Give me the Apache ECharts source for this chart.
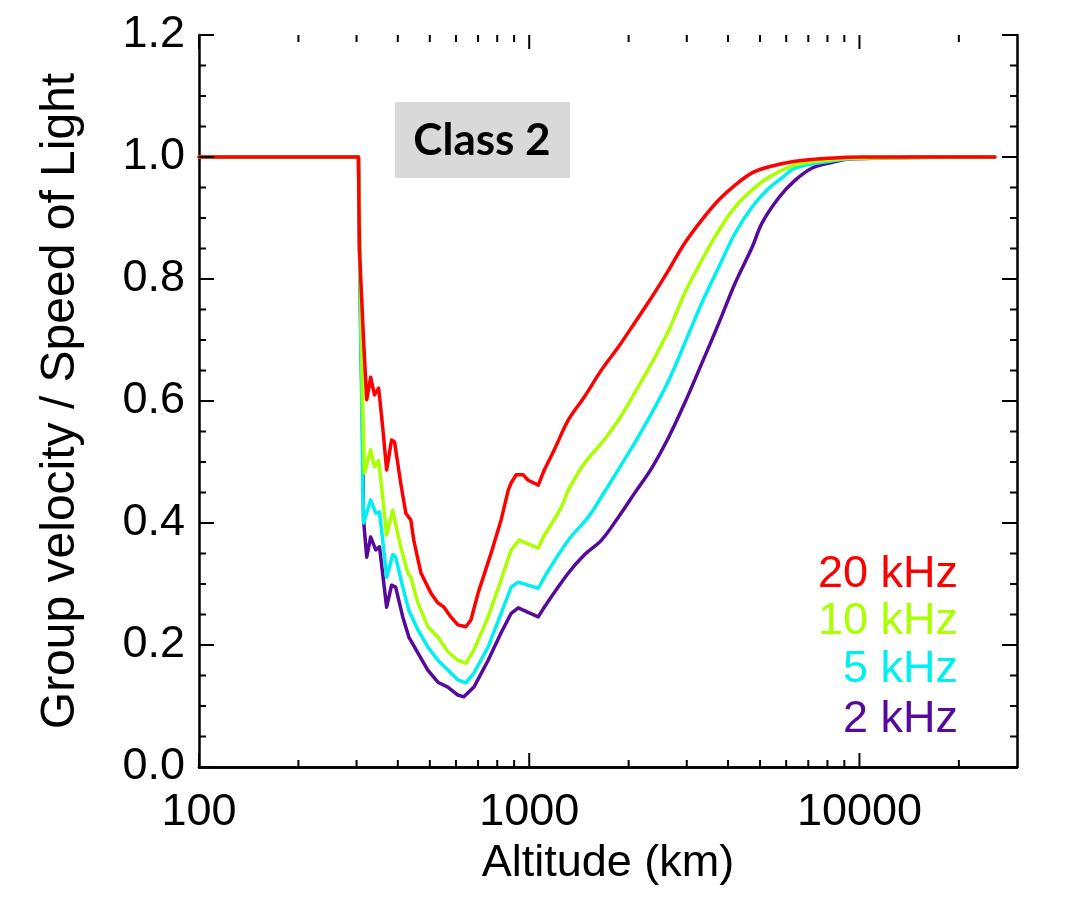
<!DOCTYPE html>
<html>
<head>
<meta charset="utf-8">
<script src="https://cdn.jsdelivr.net/npm/echarts@6/dist/echarts.min.js"></script>
<style>
  html, body { margin: 0; padding: 0; background: #fff; }
  #chart { width: 1068px; height: 909px; }
</style>
</head>
<body>
<div id="chart"></div>
<script>
// altitude (km) / group velocity ratio
const alt20 = [100, 304, 306, 315, 322, 331, 340, 350, 360, 370, 383, 391, 408, 423, 438, 447, 470, 504, 529, 552, 579, 608, 643, 666, 700, 767, 822, 864, 882, 913, 959, 993, 1065, 1111, 1191, 1314, 1470, 1655, 1864, 2085, 2349, 2646, 2959, 3333, 3754, 4201, 4731, 5327, 6390, 8106, 10210, 25700]
const vel20 = [1.0, 1.0, 0.85, 0.70, 0.602, 0.639, 0.610, 0.621, 0.557, 0.487, 0.536, 0.533, 0.466, 0.416, 0.405, 0.372, 0.318, 0.285, 0.269, 0.262, 0.246, 0.233, 0.230, 0.241, 0.285, 0.351, 0.405, 0.454, 0.466, 0.479, 0.479, 0.470, 0.462, 0.487, 0.520, 0.569, 0.607, 0.651, 0.689, 0.728, 0.770, 0.815, 0.859, 0.897, 0.930, 0.954, 0.974, 0.984, 0.993, 0.998, 1.0, 1.0]

const alt10 = [100, 304, 308, 313, 317, 331, 340, 350, 360, 370, 386, 391, 408, 429, 438, 460, 493, 529, 567, 608, 643, 680, 751, 822, 882, 932, 959, 1065, 1111, 1251, 1314, 1470, 1655, 1864, 2085, 2349, 2646, 2959, 3333, 3754, 4201, 4731, 5327, 6390, 8106, 9723, 25700]
const vel10 = [1.0, 1.0, 0.80, 0.60, 0.482, 0.520, 0.492, 0.502, 0.443, 0.380, 0.421, 0.418, 0.361, 0.318, 0.311, 0.269, 0.230, 0.213, 0.189, 0.175, 0.170, 0.192, 0.246, 0.307, 0.356, 0.372, 0.369, 0.359, 0.380, 0.426, 0.454, 0.498, 0.531, 0.569, 0.613, 0.662, 0.716, 0.777, 0.831, 0.880, 0.918, 0.946, 0.967, 0.987, 0.995, 0.998, 1.0]

const alt5 = [100, 304, 308, 313, 315, 331, 343, 352, 360, 370, 386, 394, 414, 432, 460, 493, 529, 567, 608, 643, 680, 751, 822, 882, 926, 1065, 1111, 1314, 1511, 1655, 2000, 2085, 2349, 2646, 2959, 3333, 3754, 4201, 4731, 5327, 5834, 6390, 8106, 9723, 25700]
const vel5 = [1.0, 1.0, 0.75, 0.482, 0.400, 0.438, 0.416, 0.418, 0.372, 0.311, 0.348, 0.344, 0.295, 0.257, 0.225, 0.197, 0.175, 0.159, 0.143, 0.138, 0.154, 0.197, 0.252, 0.295, 0.303, 0.293, 0.311, 0.372, 0.410, 0.443, 0.515, 0.531, 0.580, 0.634, 0.695, 0.761, 0.820, 0.875, 0.918, 0.949, 0.966, 0.982, 0.993, 0.998, 1.0]

const alt2 = [100, 304, 308, 313, 315, 322, 331, 343, 352, 370, 383, 394, 414, 432, 460, 493, 529, 567, 608, 634, 680, 751, 822, 882, 926, 1065, 1111, 1314, 1470, 1655, 1864, 2085, 2349, 2646, 2959, 3333, 3754, 4201, 4731, 5072, 5713, 6390, 7196, 8106, 9520, 25700]
const vel2 = [1.0, 1.0, 0.75, 0.55, 0.405, 0.344, 0.377, 0.356, 0.361, 0.262, 0.298, 0.295, 0.246, 0.213, 0.187, 0.159, 0.139, 0.131, 0.118, 0.115, 0.131, 0.175, 0.220, 0.252, 0.261, 0.246, 0.262, 0.318, 0.348, 0.372, 0.410, 0.449, 0.490, 0.541, 0.597, 0.662, 0.728, 0.793, 0.852, 0.892, 0.934, 0.962, 0.982, 0.990, 0.997, 1.0]

// axis ticks
const xMajor = [100, 1000, 10000]
const xMinor = [200, 300, 400, 500, 600, 700, 800, 900, 2000, 3000, 4000, 5000, 6000, 7000, 8000, 9000, 20000]
const yMajor = [0, 0.2, 0.4, 0.6, 0.8, 1.0, 1.2]
const yMinor = [0.05, 0.1, 0.15, 0.25, 0.3, 0.35, 0.45, 0.5, 0.55, 0.65, 0.7, 0.75, 0.85, 0.9, 0.95, 1.05, 1.1, 1.15]

const labels = ['20 kHz', '10 kHz', '5 kHz', '2 kHz']
const colors = ['#ff0000', '#aaff00', '#00f0f0', '#560a9c']
const splitAlt = 1111 // jagged part below, smooth rise above

const zip = (xs, ys) => xs.map((x, i) => [x, ys[i]])
const font = 'Liberation Sans, Arial, sans-serif'

const chart = echarts.init(document.getElementById('chart'))

const xBase = {
  type: 'log',
  logBase: 10,
  min: 100,
  max: 30000,
  axisLine: { lineStyle: { color: '#000', width: 2.5 } },
  axisTick: { show: false },
  splitLine: { show: false }
}
const yBase = {
  type: 'value',
  min: 0,
  max: 1.2,
  interval: 0.2,
  axisLine: { show: true, lineStyle: { color: '#000', width: 2.5 } },
  axisTick: { show: false },
  splitLine: { show: false }
}

const lineSeries = []
;[3, 2, 1, 0].forEach(i => {
  const pts = zip([alt20, alt10, alt5, alt2][i], [vel20, vel10, vel5, vel2][i])
  const common = {
    type: 'line',
    name: labels[i],
    showSymbol: false,
    lineStyle: { color: colors[i], width: 3.5, cap: 'round', join: 'round' },
    itemStyle: { color: colors[i] },
    z: 10 - i
  }
  lineSeries.push(Object.assign({}, common, { data: pts.filter(p => p[0] <= splitAlt) }))
  lineSeries.push(Object.assign({}, common, { data: pts.filter(p => p[0] >= splitAlt), smooth: 0.35 }))
})

// kind: 0 x major, 1 x minor, 2 y major, 3 y minor
const tickData = []
  .concat(xMajor.map(v => [v, 0]))
  .concat(xMinor.map(v => [v, 1]))
  .concat(yMajor.map(v => [v, 2]))
  .concat(yMinor.map(v => [v, 3]))

const tickSeries = {
  type: 'custom',
  name: 'ticks',
  silent: true,
  z: 30,
  encode: { x: -1, y: -1 },
  data: tickData,
  renderItem: function (params, api) {
    const v = api.value(0)
    const kind = api.value(1)
    const cs = params.coordSys
    const left = cs.x, right = cs.x + cs.width
    const top = cs.y, bottom = cs.y + cs.height
    const st = { stroke: '#000', lineWidth: 2 }
    if (kind < 2) {
      const x = api.coord([v, 0.6])[0]
      const len = kind === 0 ? 14 : 7
      return { type: 'group', children: [
        { type: 'line', shape: { x1: x, y1: bottom, x2: x, y2: bottom - len }, style: st },
        { type: 'line', shape: { x1: x, y1: top, x2: x, y2: top + len }, style: st }
      ] }
    }
    const y = api.coord([1000, v])[1]
    const len = kind === 2 ? 15 : 7
    return { type: 'group', children: [
      { type: 'line', shape: { x1: left, y1: y, x2: left + len, y2: y }, style: st },
      { type: 'line', shape: { x1: right, y1: y, x2: right - len, y2: y }, style: st }
    ] }
  }
}

chart.setOption({
  animation: false,
  backgroundColor: '#fff',
  grid: { left: 199, top: 35, right: 51, bottom: 142 },
  xAxis: [
    Object.assign({}, xBase, {
      position: 'bottom',
      name: 'Altitude (km)',
      nameLocation: 'middle',
      nameGap: 74,
      nameTextStyle: { fontFamily: font, fontSize: 45, color: '#000' },
      axisLabel: {
        margin: 23,
        fontFamily: font,
        fontSize: 45,
        color: '#000',
        formatter: v => (Math.round(v) > 10000 ? '' : String(Math.round(v)))
      }
    }),
    Object.assign({}, xBase, { position: 'top', axisLabel: { show: false } })
  ],
  yAxis: [
    Object.assign({}, yBase, {
      position: 'left',
      name: 'Group velocity / Speed of Light',
      nameLocation: 'middle',
      nameGap: 114,
      nameTextStyle: { fontFamily: font, fontSize: 48, color: '#000' },
      axisLabel: {
        margin: 14,
        fontFamily: font,
        fontSize: 45,
        color: '#000',
        formatter: v => v.toFixed(1)
      }
    }),
    Object.assign({}, yBase, { position: 'right', axisLabel: { show: false } })
  ],
  graphic: [
    {
      type: 'rect',
      shape: { x: 395, y: 102, width: 175, height: 76 },
      style: { fill: '#d9d9d9' }
    },
    {
      type: 'text',
      x: 482, y: 141,
      style: {
        text: 'Class 2',
        font: 'bold 44px Lato, "Open Sans", sans-serif',
        fill: '#000',
        align: 'center',
        verticalAlign: 'middle'
      }
    }
  ].concat(labels.map((t, i) => ({
    type: 'text',
    x: 958,
    y: [575, 622, 670, 720][i],
    z: 20,
    style: {
      text: t,
      font: '45px ' + font,
      fill: colors[i],
      align: 'right',
      verticalAlign: 'middle'
    }
  }))),
  series: lineSeries.concat([tickSeries])
})
</script>
</body>
</html>
